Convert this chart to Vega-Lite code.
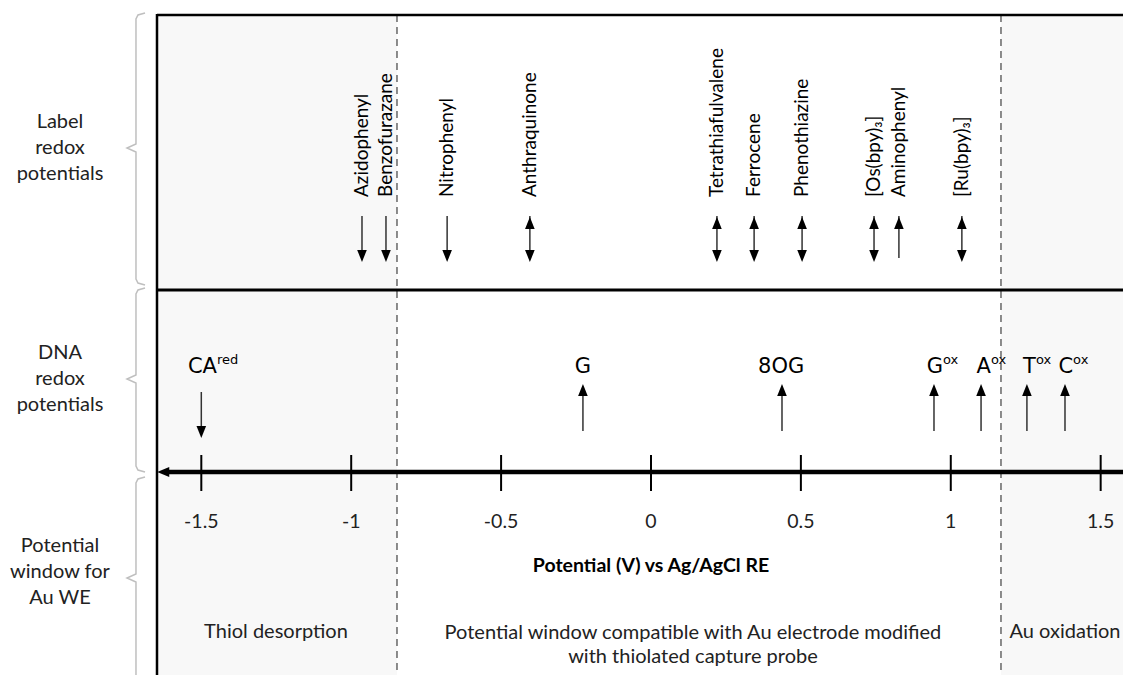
{
  "$schema": "https://vega.github.io/schema/vega-lite/v6.json",
  "width": 1123,
  "height": 675,
  "autosize": {"type": "none"},
  "padding": 0,
  "background": "white",
  "config": {"view": {"stroke": null}},
  "datasets": {
    "top_labels": [
      {"name": "Azidophenyl", "E": -0.964, "kind": "down"},
      {"name": "Benzofurazane", "E": -0.884, "kind": "down"},
      {"name": "Nitrophenyl", "E": -0.68, "kind": "down"},
      {"name": "Anthraquinone", "E": -0.404, "kind": "both"},
      {"name": "Tetrathiafulvalene", "E": 0.22, "kind": "both"},
      {"name": "Ferrocene", "E": 0.344, "kind": "both"},
      {"name": "Phenothiazine", "E": 0.504, "kind": "both"},
      {"name": "[Os(bpy)₃]", "E": 0.744, "kind": "both"},
      {"name": "Aminophenyl", "E": 0.827, "kind": "up"},
      {"name": "[Ru(bpy)₃]", "E": 1.037, "kind": "both"}
    ],
    "dna": [
      {"base": "CA", "sup": "red", "E": -1.5, "label_E": -1.4477, "kind": "down"},
      {"base": "G", "sup": "", "E": -0.227, "label_E": -0.227, "kind": "up"},
      {"base": "8OG", "sup": "", "E": 0.437, "label_E": 0.434, "kind": "up"},
      {"base": "G", "sup": "ox", "E": 0.944, "label_E": 0.974, "kind": "up"},
      {"base": "A", "sup": "ox", "E": 1.101, "label_E": 1.134, "kind": "up"},
      {"base": "T", "sup": "ox", "E": 1.254, "label_E": 1.284, "kind": "up"},
      {"base": "C", "sup": "ox", "E": 1.381, "label_E": 1.408, "kind": "up"}
    ],
    "ticks": [
      {"E": -1.5, "label": "-1.5"},
      {"E": -1, "label": "-1"},
      {"E": -0.5, "label": "-0.5"},
      {"E": 0, "label": "0"},
      {"E": 0.5, "label": "0.5"},
      {"E": 1, "label": "1"},
      {"E": 1.5, "label": "1.5"}
    ],
    "braces": [
      {"brace": "label", "ord": 1, "x": -1.6878, "y": 13},
      {"brace": "label", "ord": 2, "x": -1.7112, "y": 15},
      {"brace": "label", "ord": 3, "x": -1.7179, "y": 19},
      {"brace": "label", "ord": 4, "x": -1.7179, "y": 144},
      {"brace": "label", "ord": 5, "x": -1.7479, "y": 148},
      {"brace": "label", "ord": 6, "x": -1.7179, "y": 152},
      {"brace": "label", "ord": 7, "x": -1.7179, "y": 279},
      {"brace": "label", "ord": 8, "x": -1.7112, "y": 283},
      {"brace": "label", "ord": 9, "x": -1.6878, "y": 285},
      {"brace": "dna", "ord": 1, "x": -1.6878, "y": 288},
      {"brace": "dna", "ord": 2, "x": -1.7112, "y": 290},
      {"brace": "dna", "ord": 3, "x": -1.7179, "y": 294},
      {"brace": "dna", "ord": 4, "x": -1.7179, "y": 375},
      {"brace": "dna", "ord": 5, "x": -1.7479, "y": 379},
      {"brace": "dna", "ord": 6, "x": -1.7179, "y": 383},
      {"brace": "dna", "ord": 7, "x": -1.7179, "y": 466},
      {"brace": "dna", "ord": 8, "x": -1.7112, "y": 470},
      {"brace": "dna", "ord": 9, "x": -1.6878, "y": 472},
      {"brace": "au", "ord": 1, "x": -1.6878, "y": 477},
      {"brace": "au", "ord": 2, "x": -1.7112, "y": 479},
      {"brace": "au", "ord": 3, "x": -1.7179, "y": 483},
      {"brace": "au", "ord": 4, "x": -1.7179, "y": 574},
      {"brace": "au", "ord": 5, "x": -1.7479, "y": 578},
      {"brace": "au", "ord": 6, "x": -1.7179, "y": 582},
      {"brace": "au", "ord": 7, "x": -1.7179, "y": 680}
    ]
  },
  "layer": [
    {
      "data": {"values": [{"zone": "Thiol desorption", "from": -1.6478, "to": -0.8473}, {"zone": "Au oxidation", "from": 1.1675, "to": 1.5745}]},
      "mark": {"type": "rect", "color": "#f8f8f8"},
      "encoding": {
        "x": {"field": "from", "type": "quantitative", "scale": {"domain": [-2.1715, 1.5745], "nice": false, "zero": false}, "axis": null},
        "x2": {"field": "to"},
        "y": {"datum": 15, "type": "quantitative", "scale": {"domain": [0, 675], "reverse": true, "nice": false, "zero": false}, "axis": null},
        "y2": {"datum": 675}
      }
    },
    {
      "data": {"values": [{"E": -0.8473}, {"E": 1.1675}]},
      "mark": {"type": "rule", "color": "#7f7f7f", "strokeWidth": 1.8, "strokeDash": [7, 5]},
      "encoding": {
        "x": {"field": "E", "type": "quantitative", "axis": null},
        "y": {"datum": 15, "type": "quantitative", "axis": null},
        "y2": {"datum": 675}
      }
    },
    {
      "data": {"values": [{"from": -1.6478, "to": 1.5745}]},
      "mark": {"type": "rule", "color": "#000000", "strokeWidth": 2.5},
      "encoding": {
        "x": {"field": "from", "type": "quantitative", "axis": null},
        "x2": {"field": "to"},
        "y": {"datum": 15, "type": "quantitative", "axis": null}
      }
    },
    {
      "data": {"values": [{"from": -1.6478, "to": 1.5745}]},
      "mark": {"type": "rule", "color": "#000000", "strokeWidth": 3},
      "encoding": {
        "x": {"field": "from", "type": "quantitative", "axis": null},
        "x2": {"field": "to"},
        "y": {"datum": 290, "type": "quantitative", "axis": null}
      }
    },
    {
      "data": {"values": [{"E": -1.6478}]},
      "mark": {"type": "rule", "color": "#000000", "strokeWidth": 2.5},
      "encoding": {
        "x": {"field": "E", "type": "quantitative", "axis": null},
        "y": {"datum": 14, "type": "quantitative", "axis": null},
        "y2": {"datum": 675}
      }
    },
    {
      "data": {"values": [{"from": -1.62, "to": 1.5745}]},
      "mark": {"type": "rule", "color": "#000000", "strokeWidth": 4.5},
      "encoding": {
        "x": {"field": "from", "type": "quantitative", "axis": null},
        "x2": {"field": "to"},
        "y": {"datum": 472, "type": "quantitative", "axis": null}
      }
    },
    {
      "data": {"values": [{"E": -1.627}]},
      "mark": {"type": "point", "shape": "M1,-0.85L1,0.85L-1,0Z", "size": 144, "filled": true, "color": "#000000", "opacity": 1},
      "encoding": {
        "x": {"field": "E", "type": "quantitative", "axis": null},
        "y": {"datum": 472, "type": "quantitative", "axis": null}
      }
    },
    {
      "data": {"name": "ticks"},
      "mark": {"type": "rule", "color": "#000000", "strokeWidth": 2},
      "encoding": {
        "x": {"field": "E", "type": "quantitative", "axis": null},
        "y": {"datum": 455, "type": "quantitative", "axis": null},
        "y2": {"datum": 491}
      }
    },
    {
      "data": {"name": "ticks"},
      "mark": {"type": "text", "font": "Lato", "fontSize": 19.5, "color": "#222222", "baseline": "middle", "align": "center"},
      "encoding": {
        "x": {"field": "E", "type": "quantitative", "axis": null},
        "y": {"datum": 522, "type": "quantitative", "axis": null},
        "text": {"field": "label"}
      }
    },
    {
      "data": {"values": [{"E": 0, "title": "Potential (V) vs Ag/AgCl RE"}]},
      "mark": {"type": "text", "font": "Lato", "fontSize": 19.5, "fontWeight": "bold", "color": "#000000", "baseline": "middle", "align": "center"},
      "encoding": {
        "x": {"field": "E", "type": "quantitative", "axis": null},
        "y": {"datum": 566, "type": "quantitative", "axis": null},
        "text": {"field": "title"}
      }
    },
    {
      "data": {"values": [{"E": -1.2509, "zone": "Thiol desorption"}, {"E": 1.381, "zone": "Au oxidation"}]},
      "mark": {"type": "text", "font": "Lato", "fontSize": 20, "color": "#222222", "baseline": "middle", "align": "center"},
      "encoding": {
        "x": {"field": "E", "type": "quantitative", "axis": null},
        "y": {"datum": 632, "type": "quantitative", "axis": null},
        "text": {"field": "zone"}
      }
    },
    {
      "data": {"values": [{"E": 0.14, "zone": "Potential window compatible with Au electrode modified\nwith thiolated capture probe"}]},
      "mark": {"type": "text", "font": "Lato", "fontSize": 20, "color": "#222222", "baseline": "middle", "align": "center", "lineBreak": "\n", "lineHeight": 24},
      "encoding": {
        "x": {"field": "E", "type": "quantitative", "axis": null},
        "y": {"datum": 633, "type": "quantitative", "axis": null},
        "text": {"field": "zone"}
      }
    },
    {
      "data": {"name": "braces"},
      "mark": {"type": "line", "color": "#bfbfbf", "strokeWidth": 1.5},
      "encoding": {
        "x": {"field": "x", "type": "quantitative", "axis": null},
        "y": {"field": "y", "type": "quantitative", "axis": null},
        "detail": {"field": "brace"},
        "order": {"field": "ord"}
      }
    },
    {
      "data": {"values": [{"E": -1.9714, "text": "Label\nredox\npotentials"}]},
      "mark": {"type": "text", "font": "Lato", "fontSize": 20, "color": "#222222", "baseline": "middle", "align": "center", "lineBreak": "\n", "lineHeight": 26},
      "encoding": {
        "x": {"field": "E", "type": "quantitative", "axis": null},
        "y": {"datum": 122, "type": "quantitative", "axis": null},
        "text": {"field": "text"}
      }
    },
    {
      "data": {"values": [{"E": -1.9714, "text": "DNA\nredox\npotentials"}]},
      "mark": {"type": "text", "font": "Lato", "fontSize": 20, "color": "#222222", "baseline": "middle", "align": "center", "lineBreak": "\n", "lineHeight": 26},
      "encoding": {
        "x": {"field": "E", "type": "quantitative", "axis": null},
        "y": {"datum": 353, "type": "quantitative", "axis": null},
        "text": {"field": "text"}
      }
    },
    {
      "data": {"values": [{"E": -1.9714, "text": "Potential\nwindow for\nAu WE"}]},
      "mark": {"type": "text", "font": "Lato", "fontSize": 20, "color": "#222222", "baseline": "middle", "align": "center", "lineBreak": "\n", "lineHeight": 26},
      "encoding": {
        "x": {"field": "E", "type": "quantitative", "axis": null},
        "y": {"datum": 546, "type": "quantitative", "axis": null},
        "text": {"field": "text"}
      }
    },
    {
      "data": {"name": "top_labels"},
      "mark": {"type": "text", "font": "Lato", "fontSize": 19, "color": "#000000", "baseline": "middle", "align": "left", "angle": 270},
      "encoding": {
        "x": {"field": "E", "type": "quantitative", "axis": null},
        "y": {"datum": 197, "type": "quantitative", "axis": null},
        "text": {"field": "name"}
      }
    },
    {
      "data": {"name": "top_labels"},
      "mark": {"type": "rule", "color": "#333333", "strokeWidth": 1.5},
      "encoding": {
        "x": {"field": "E", "type": "quantitative", "axis": null},
        "y": {"datum": 216, "type": "quantitative", "axis": null},
        "y2": {"datum": 258}
      }
    },
    {
      "data": {"name": "top_labels"},
      "transform": [{"filter": "datum.kind != 'up'"}],
      "mark": {"type": "point", "shape": "M-0.8,-1L0.8,-1L0,1Z", "size": 144, "filled": true, "color": "#000000", "opacity": 1},
      "encoding": {
        "x": {"field": "E", "type": "quantitative", "axis": null},
        "y": {"datum": 256, "type": "quantitative", "axis": null}
      }
    },
    {
      "data": {"name": "top_labels"},
      "transform": [{"filter": "datum.kind != 'down'"}],
      "mark": {"type": "point", "shape": "M-0.8,1L0.8,1L0,-1Z", "size": 144, "filled": true, "color": "#000000", "opacity": 1},
      "encoding": {
        "x": {"field": "E", "type": "quantitative", "axis": null},
        "y": {"datum": 223, "type": "quantitative", "axis": null}
      }
    },
    {
      "data": {"name": "dna"},
      "transform": [{"filter": "datum.kind == 'down'"}],
      "mark": {"type": "rule", "color": "#333333", "strokeWidth": 1.5},
      "encoding": {
        "x": {"field": "E", "type": "quantitative", "axis": null},
        "y": {"datum": 392, "type": "quantitative", "axis": null},
        "y2": {"datum": 432}
      }
    },
    {
      "data": {"name": "dna"},
      "transform": [{"filter": "datum.kind == 'down'"}],
      "mark": {"type": "point", "shape": "M-0.8,-1L0.8,-1L0,1Z", "size": 144, "filled": true, "color": "#000000", "opacity": 1},
      "encoding": {
        "x": {"field": "E", "type": "quantitative", "axis": null},
        "y": {"datum": 432, "type": "quantitative", "axis": null}
      }
    },
    {
      "data": {"name": "dna"},
      "transform": [{"filter": "datum.kind == 'up'"}],
      "mark": {"type": "rule", "color": "#333333", "strokeWidth": 1.5},
      "encoding": {
        "x": {"field": "E", "type": "quantitative", "axis": null},
        "y": {"datum": 390, "type": "quantitative", "axis": null},
        "y2": {"datum": 431}
      }
    },
    {
      "data": {"name": "dna"},
      "transform": [{"filter": "datum.kind == 'up'"}],
      "mark": {"type": "point", "shape": "M-0.8,1L0.8,1L0,-1Z", "size": 144, "filled": true, "color": "#000000", "opacity": 1},
      "encoding": {
        "x": {"field": "E", "type": "quantitative", "axis": null},
        "y": {"datum": 390, "type": "quantitative", "axis": null}
      }
    },
    {
      "data": {"name": "dna"},
      "transform": [{"filter": "datum.sup == ''"}],
      "mark": {"type": "text", "font": "DejaVu Sans", "fontSize": 21, "color": "#000000", "baseline": "alphabetic", "align": "center"},
      "encoding": {
        "x": {"field": "label_E", "type": "quantitative", "axis": null},
        "y": {"datum": 373, "type": "quantitative", "axis": null},
        "text": {"field": "base"}
      }
    },
    {
      "data": {"name": "dna"},
      "transform": [{"filter": "datum.sup != ''"}],
      "mark": {"type": "text", "font": "DejaVu Sans", "fontSize": 21, "color": "#000000", "baseline": "alphabetic", "align": "right"},
      "encoding": {
        "x": {"field": "label_E", "type": "quantitative", "axis": null},
        "y": {"datum": 373, "type": "quantitative", "axis": null},
        "text": {"field": "base"}
      }
    },
    {
      "data": {"name": "dna"},
      "transform": [{"filter": "datum.sup != ''"}],
      "mark": {"type": "text", "font": "DejaVu Sans", "fontSize": 13, "color": "#000000", "baseline": "alphabetic", "align": "left"},
      "encoding": {
        "x": {"field": "label_E", "type": "quantitative", "axis": null},
        "y": {"datum": 364, "type": "quantitative", "axis": null},
        "text": {"field": "sup"}
      }
    }
  ]
}
